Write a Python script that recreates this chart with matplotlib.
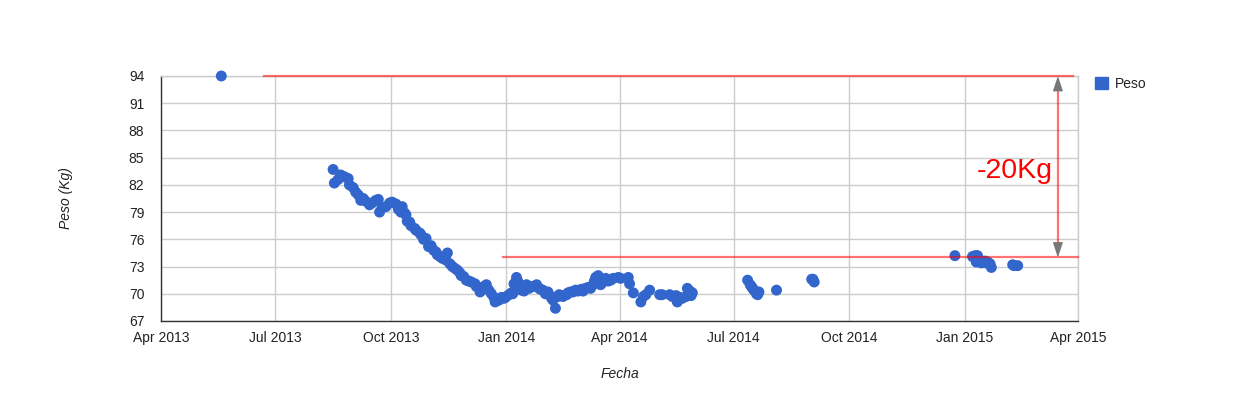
import matplotlib
matplotlib.use("Agg")
import matplotlib.pyplot as plt
import matplotlib.dates as mdates
import pandas as pd

plt.rcParams['font.family'] = ['Liberation Sans', 'DejaVu Sans']

dates = [
    "2013-05-19",
    "2013-08-16", "2013-08-17", "2013-08-20", "2013-08-22", "2013-08-25", "2013-08-28", "2013-08-29",
    "2013-09-01", "2013-09-03", "2013-09-05", "2013-09-07", "2013-09-09", "2013-09-11", "2013-09-14",
    "2013-09-16", "2013-09-19", "2013-09-21", "2013-09-22", "2013-09-24", "2013-09-27", "2013-09-30",
    "2013-10-02", "2013-10-05", "2013-10-07", "2013-10-09", "2013-10-10", "2013-10-12", "2013-10-13",
    "2013-10-14", "2013-10-16", "2013-10-17", "2013-10-20", "2013-10-21", "2013-10-24", "2013-10-25",
    "2013-10-27", "2013-10-29", "2013-10-31", "2013-11-02", "2013-11-04", "2013-11-06", "2013-11-07",
    "2013-11-09", "2013-11-11", "2013-11-14", "2013-11-15", "2013-11-17", "2013-11-19", "2013-11-21",
    "2013-11-23", "2013-11-25", "2013-11-26", "2013-11-28", "2013-11-30", "2013-12-02", "2013-12-04",
    "2013-12-07", "2013-12-08", "2013-12-11", "2013-12-12", "2013-12-14", "2013-12-16", "2013-12-18",
    "2013-12-20", "2013-12-22", "2013-12-23", "2013-12-25", "2013-12-26", "2013-12-28", "2013-12-30",
    "2013-12-31", "2014-01-01", "2014-01-03", "2014-01-05", "2014-01-06", "2014-01-07", "2014-01-09",
    "2014-01-10", "2014-01-11", "2014-01-13", "2014-01-14", "2014-01-15", "2014-01-17", "2014-01-19",
    "2014-01-20", "2014-01-22", "2014-01-25", "2014-01-27", "2014-01-28", "2014-01-30", "2014-02-01",
    "2014-02-03", "2014-02-04", "2014-02-06", "2014-02-07", "2014-02-09", "2014-02-11", "2014-02-12",
    "2014-02-14", "2014-02-15", "2014-02-18", "2014-02-19", "2014-02-21", "2014-02-23", "2014-02-25",
    "2014-02-27", "2014-02-28", "2014-03-02", "2014-03-03", "2014-03-05", "2014-03-07", "2014-03-09",
    "2014-03-11", "2014-03-12", "2014-03-13", "2014-03-15", "2014-03-16", "2014-03-17", "2014-03-18",
    "2014-03-19", "2014-03-21", "2014-03-23", "2014-03-25", "2014-03-27", "2014-03-31", "2014-04-02",
    "2014-04-08", "2014-04-09", "2014-04-12", "2014-04-18", "2014-04-20", "2014-04-22", "2014-04-25",
    "2014-05-03", "2014-05-05", "2014-05-11", "2014-05-13", "2014-05-16", "2014-05-17", "2014-05-19",
    "2014-05-21", "2014-05-24", "2014-05-25", "2014-05-27", "2014-05-28", "2014-05-29",
    "2014-07-12", "2014-07-14", "2014-07-15", "2014-07-16", "2014-07-17", "2014-07-19", "2014-07-20",
    "2014-07-21", "2014-08-04", "2014-09-01", "2014-09-02", "2014-09-03",
    "2014-12-24", "2015-01-07", "2015-01-09", "2015-01-10", "2015-01-11", "2015-01-13", "2015-01-14",
    "2015-01-15", "2015-01-17", "2015-01-18", "2015-01-19", "2015-01-21", "2015-01-22",
    "2015-02-08", "2015-02-09", "2015-02-12",
]
peso = [
    94.0,
    83.7, 82.2, 82.6, 83.1, 82.9, 82.7, 82.0,
    81.7, 81.2, 80.9, 80.3, 80.5, 80.2, 79.8,
    80.0, 80.3, 80.4, 79.0, 79.5, 79.6, 80.0,
    80.1, 79.9, 79.3, 79.0, 79.6, 78.9, 78.7,
    78.0, 77.9, 77.5, 77.2, 77.0, 76.7, 76.5,
    76.0, 76.1, 75.2, 75.3, 74.8, 74.6, 74.3,
    74.1, 73.9, 73.7, 74.5, 73.3, 73.0, 72.8,
    72.6, 72.3, 72.0, 71.9, 71.5, 71.4, 71.3,
    71.1, 70.8, 70.2, 70.5, 70.8, 71.0, 70.4,
    70.0, 69.6, 69.1, 69.4, 69.3, 69.6, 69.5,
    69.6, 69.7, 69.9, 70.1, 70.0, 71.1, 71.8,
    71.4, 70.9, 70.4, 70.8, 70.3, 71.0, 70.6,
    70.8, 70.8, 71.0, 70.6, 70.5, 70.4, 70.0,
    70.2, 69.9, 69.5, 69.3, 68.4, 69.7, 69.9,
    69.8, 69.7, 69.9, 70.1, 70.2, 70.2, 70.4,
    70.3, 70.4, 70.5, 70.3, 70.6, 70.7, 70.6,
    71.0, 71.4, 71.8, 72.0, 71.7, 71.0, 71.2,
    71.5, 71.7, 71.4, 71.5, 71.7, 71.8, 71.7,
    71.8, 71.1, 70.1, 69.1, 69.7, 69.9, 70.4,
    69.9, 69.9, 69.9, 69.7, 69.8, 69.1, 69.6,
    69.5, 69.7, 70.6, 70.3, 69.8, 70.1,
    71.5, 71.0, 70.8, 70.6, 70.4, 70.0, 69.9,
    70.2, 70.4, 71.6, 71.6, 71.3,
    74.2, 74.1, 74.2, 73.5, 74.2, 73.7, 73.4,
    73.5, 73.6, 73.4, 73.5, 73.3, 72.9,
    73.2, 73.1, 73.1,
]

xtick_dates = ["2013-04-01", "2013-07-01", "2013-10-01", "2014-01-01", "2014-04-01",
               "2014-07-01", "2014-10-01", "2015-01-01", "2015-04-01"]
xtick_labels = ["Apr 2013", "Jul 2013", "Oct 2013", "Jan 2014", "Apr 2014",
                "Jul 2014", "Oct 2014", "Jan 2015", "Apr 2015"]
yticks = [67, 70, 73, 76, 79, 82, 85, 88, 91, 94]

# annotation values
peso_max = 94
peso_obj = 74
top_line = ["2013-06-22", "2015-03-28"]
bottom_line = ["2013-12-29", "2015-04-01"]
arrow_date = "2015-03-16"
label_date = "2015-03-12"
label_text = "-20Kg"

blue = "#3366cc"
x = pd.to_datetime(dates)

fig = plt.figure(figsize=(12.4, 3.98), dpi=100)
ax = fig.add_axes([161/1240, 77/398, 917/1240, 245/398])

ax.set_xlim(pd.Timestamp(xtick_dates[0]), pd.Timestamp(xtick_dates[-1]))
ax.set_ylim(yticks[0], yticks[-1])
ax.set_xticks(pd.to_datetime(xtick_dates))
ax.set_xticklabels(xtick_labels)
ax.set_yticks(yticks)
ax.set_yticklabels([str(v) for v in yticks])

ax.grid(True, color="#cccccc", linewidth=1)
ax.set_axisbelow(True)
for s in ["top", "right"]:
    ax.spines[s].set_color("#cccccc")
    ax.spines[s].set_linewidth(1)
for s in ["left", "bottom"]:
    ax.spines[s].set_color("#333333")
    ax.spines[s].set_linewidth(1)
ax.tick_params(length=0, labelsize=10, colors="#222222")
ax.tick_params(axis="x", pad=7)
ax.tick_params(axis="y", pad=12)

ax.scatter(x, peso, s=62, color=blue, edgecolors="none", zorder=3, clip_on=False, label="Peso")

red = (1.0, 0.0, 0.0, 0.55)
ax.plot(pd.to_datetime(top_line), [peso_max, peso_max], color=red, lw=1.6, zorder=4, clip_on=False)
ax.plot(pd.to_datetime(bottom_line), [peso_obj, peso_obj], color=red, lw=1.6, zorder=4, clip_on=False)
ad = pd.Timestamp(arrow_date)
ax.plot([ad, ad], [peso_obj + 1.2, peso_max - 1.2], color=red, lw=1.6, zorder=4)
ax.annotate("", xy=(ad, peso_max), xytext=(ad, peso_max - 1.6),
            arrowprops=dict(arrowstyle="-|>,head_length=0.9,head_width=0.3", color="#777777", lw=1,
                            shrinkA=0, shrinkB=0), zorder=5)
ax.annotate("", xy=(ad, peso_obj), xytext=(ad, peso_obj + 1.6),
            arrowprops=dict(arrowstyle="-|>,head_length=0.9,head_width=0.3", color="#777777", lw=1,
                            shrinkA=0, shrinkB=0), zorder=5)
ax.text(pd.Timestamp(label_date), 83.5, label_text, color="red", fontsize=20.5,
        ha="right", va="center", zorder=5)

ax.set_xlabel("Fecha", fontstyle="italic", fontsize=10, color="#222222", labelpad=16)
ax.set_ylabel("Peso (Kg)", fontstyle="italic", fontsize=10, color="#222222", labelpad=40)

leg = fig.legend(handles=[plt.Rectangle((0, 0), 1, 1, color=blue)], labels=["Peso"],
                 loc="upper left", bbox_to_anchor=(1082/1240, 1 - 64/398), frameon=False,
                 handlelength=1.0, handleheight=1.0, handletextpad=0.5, fontsize=10,
                 labelcolor="#222222")

fig.savefig("out.png", dpi=100, facecolor="white")
